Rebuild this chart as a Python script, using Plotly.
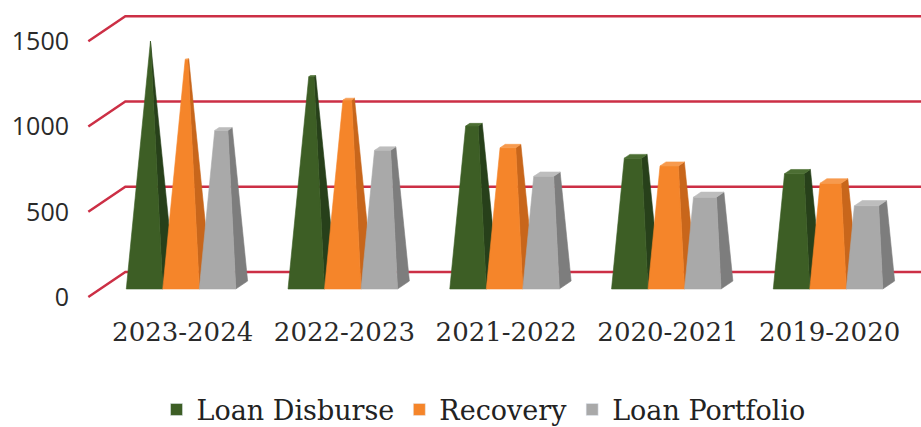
import plotly.graph_objects as go

# ---------------- data ----------------
CATEGORIES = ["2023-2024", "2022-2023", "2021-2022", "2020-2021", "2019-2020"]
SERIES_NAMES = ["Loan Disburse", "Recovery", "Loan Portfolio"]
LOAN_DISBURSE = [1430, 1225, 940, 755, 665]
RECOVERY = [1325, 1090, 815, 710, 610]
LOAN_PORTFOLIO = [915, 800, 650, 530, 480]
Y_TICKS = [0, 500, 1000, 1500]

SERIES_VALUES = [LOAN_DISBURSE, RECOVERY, LOAN_PORTFOLIO]

# ---------------- styles ----------------
FRONT = ["#3d5e25", "#f5852a", "#a9a9a9"]
SIDE = ["#27401a", "#c8661b", "#7d7d7d"]
TOP = ["#4c6e33", "#f79a4e", "#bdbdbd"]
GRID = "#cc2f45"

W, H = 921, 427
ML, MR, MT, MB = 80, 0, 0, 117
PX_X = 161.75          # pixels per category
PX_Y = 0.1705          # pixels per value unit
FRONT_X0_PX = 169.2    # pixel of category 0 at front plane
FRONT_Y0_PX = 297      # pixel of value 0 at front plane

plot_h = H - MT - MB
x_range = [(ML - FRONT_X0_PX) / PX_X, (W - MR - FRONT_X0_PX) / PX_X]
y_top = (FRONT_Y0_PX - MT) / PX_Y
y_range = [y_top - plot_h / PX_Y, y_top]

DXW = 37 / PX_X        # depth shift of the whole floor (x units)
DYW = 25 / PX_Y        # depth shift of the whole floor (value units)
Z0, Z1 = 0.32, 0.64    # bar depth span
BW = 36.5 / PX_X       # bar width
X_LEFT = -0.5
X_RIGHT = 6.0
APEX = max(max(s) for s in SERIES_VALUES)


def proj(x, v, z):
    return x + z * DXW, v + z * DYW


def poly(points, color):
    xs, ys = [], []
    for (x, v, z) in points:
        px, py = proj(x, v, z)
        xs.append(px)
        ys.append(py)
    xs.append(xs[0])
    ys.append(ys[0])
    return go.Scatter(x=xs, y=ys, mode="lines", fill="toself", fillcolor=color,
                      line=dict(width=0.6, color=color), hoverinfo="skip",
                      showlegend=False)


fig = go.Figure()

# gridlines on the back wall with diagonal connectors
gx, gy = [], []
for t in Y_TICKS:
    for (x, z) in [(X_LEFT, 0), (X_LEFT, 1), (X_RIGHT, 1)]:
        px, py = proj(x, t, z)
        gx.append(px)
        gy.append(py)
    gx.append(None)
    gy.append(None)
fig.add_trace(go.Scatter(x=gx, y=gy, mode="lines", line=dict(color=GRID, width=2.5),
                         hoverinfo="skip", showlegend=False))

# pyramids
for i in range(len(CATEGORIES)):
    for k, vals in enumerate(SERIES_VALUES):
        v = vals[i]
        x0 = i + (k - 1.5) * BW
        x1 = x0 + BW
        xc = (x0 + x1) / 2
        zc = (Z0 + Z1) / 2
        f = v / APEX
        x0t = x0 + f * (xc - x0)
        x1t = x1 + f * (xc - x1)
        z0t = Z0 + f * (zc - Z0)
        z1t = Z1 + f * (zc - Z1)
        fig.add_trace(poly([(x1, 0, Z0), (x1, 0, Z1), (x1t, v, z1t), (x1t, v, z0t)], SIDE[k]))
        fig.add_trace(poly([(x0, 0, Z0), (x1, 0, Z0), (x1t, v, z0t), (x0t, v, z0t)], FRONT[k]))
        fig.add_trace(poly([(x0t, v, z0t), (x1t, v, z0t), (x1t, v, z1t), (x0t, v, z1t)], TOP[k]))

# legend entries
for k, name in enumerate(SERIES_NAMES):
    fig.add_trace(go.Bar(x=[None], y=[None], name=name, marker=dict(color=FRONT[k]),
                         showlegend=True))

fig.update_layout(
    width=W, height=H,
    margin=dict(l=ML, r=MR, t=MT, b=MB),
    paper_bgcolor="white", plot_bgcolor="white",
    showlegend=True,
    legend=dict(orientation="h", xref="container", yref="container",
                x=0.525, xanchor="center", y=0.04, yanchor="middle",
                font=dict(family="DejaVu Serif", size=27, color="#222222"),
                itemclick=False, itemdoubleclick=False, traceorder="normal"),
    xaxis=dict(range=x_range, showgrid=False, zeroline=False, showline=False,
               tickvals=[i + Z0 * DXW + 0.01 for i in range(len(CATEGORIES))],
               ticktext=CATEGORIES, ticks="", ticklabelstandoff=4,
               tickfont=dict(family="DejaVu Serif", size=26, color="#2a2a2a"),
               fixedrange=True),
    yaxis=dict(range=y_range, showgrid=False, zeroline=False, showline=False,
               tickvals=Y_TICKS, ticktext=[str(t) for t in Y_TICKS], ticks="",
               ticklabelstandoff=10,
               tickfont=dict(family="Open Sans", size=25, color="#2a2a2a"),
               fixedrange=True),
)

fig.write_html("out.html",
               config={"displayModeBar": False},
               post_script="document.body.style.margin='0';"
                           "document.body.style.overflow='hidden';")
